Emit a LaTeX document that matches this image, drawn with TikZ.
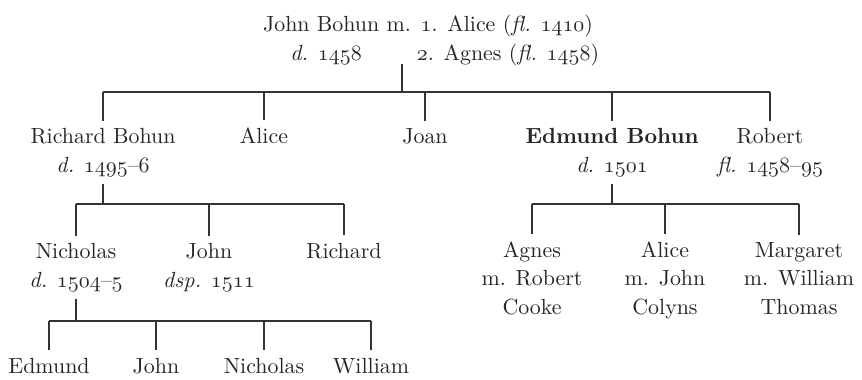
\documentclass[tikz,border=0pt,11pt]{standalone}
\usepackage{tikz}

\newcommand{\yr}[1]{$\mathnormal{#1}$}

\begin{document}
\begin{tikzpicture}[x=0.5pt,y=-0.5pt,
  person/.style={anchor=base,align=center,inner xsep=0pt,inner ysep=3.5pt,
    text=black!85,font=\fontsize{10.95}{14.25}\selectfont},
  line/.style={draw,black!80,line width=0.6pt}]
  \useasboundingbox (0,0) rectangle (862,380);

  \node [person] (JB) at (428,32) {John Bohun m. \yr{1}. Alice (\textit{fl.} \yr{1410})};
  \node [person] (JB_d) at (326,61) {\textit{d.} \yr{1458}};
  \node [person] (JB_m) at (508,61) {\yr{2}. Agnes (\textit{fl.} \yr{1458})};
  \coordinate (JB_c) at (402,64);
  \coordinate (bar_0) at (402,92);

  \node [person] (RB) at (103,172) {Richard Bohun\\\textit{d.} \yr{1495}--\yr{6}};
  \node [person] (Al) at (264,143) {Alice};
  \node [person] (Jo) at (425,143) {Joan};
  \node [person] (EB) at (612,172) {\textbf{Edmund Bohun}\\\textit{d.} \yr{1501}};
  \node [person] (Rob) at (770,172) {Robert\\\textit{fl.} \yr{1458}--\yr{95}};

  \path [line] (JB_c) -- (bar_0);
  \path [line] (RB.north |- bar_0) -- (Rob.north |- bar_0);
  \path [line] \foreach \p in {RB,Al,Jo,EB,Rob} {(\p.north |- bar_0) edge (\p.north)};

  \coordinate (bar_1) at (108,204);
  \node [person] (RB_1) at (76,287) {Nicholas\\\textit{d.} \yr{1504}--\yr{5}};
  \node [person] (RB_2) at (209,287) {John\\\textit{dsp.} \yr{1511}};
  \node [person] (RB_3) at (344,258) {Richard};

  \path [line] (RB.south) -- (RB.south |- bar_1);
  \path [line] (RB_1.north |- bar_1) -- (RB_3.north |- bar_1);
  \path [line] \foreach \p in {RB_1,RB_2,RB_3} {(\p.north |- bar_1) edge (\p.north)};

  \coordinate (bar_2) at (607,204);
  \node [person] (EB_1) at (532,314) {Agnes\\m. Robert\\Cooke};
  \node [person] (EB_2) at (665,314) {Alice\\m. John\\Colyns};
  \node [person] (EB_3) at (799,314) {Margaret\\m. William\\Thomas};

  \path [line] (EB.south) -- (EB.south |- bar_2);
  \path [line] (EB_1.north |- bar_2) -- (EB_3.north |- bar_2);
  \path [line] \foreach \p in {EB_1,EB_2,EB_3} {(\p.north |- bar_2) edge (\p.north)};

  \coordinate (bar_3) at (77,321);
  \node [person] (N_1) at (49,373) {Edmund};
  \node [person] (N_2) at (156,373) {John};
  \node [person] (N_3) at (264,373) {Nicholas};
  \node [person] (N_4) at (371,373) {William};

  \path [line] (RB_1.south) -- (RB_1.south |- bar_3);
  \path [line] (N_1.north |- bar_3) -- (N_4.north |- bar_3);
  \path [line] \foreach \p in {N_1,N_2,N_3,N_4} {(\p.north |- bar_3) edge (\p.north)};
\end{tikzpicture}
\end{document}
